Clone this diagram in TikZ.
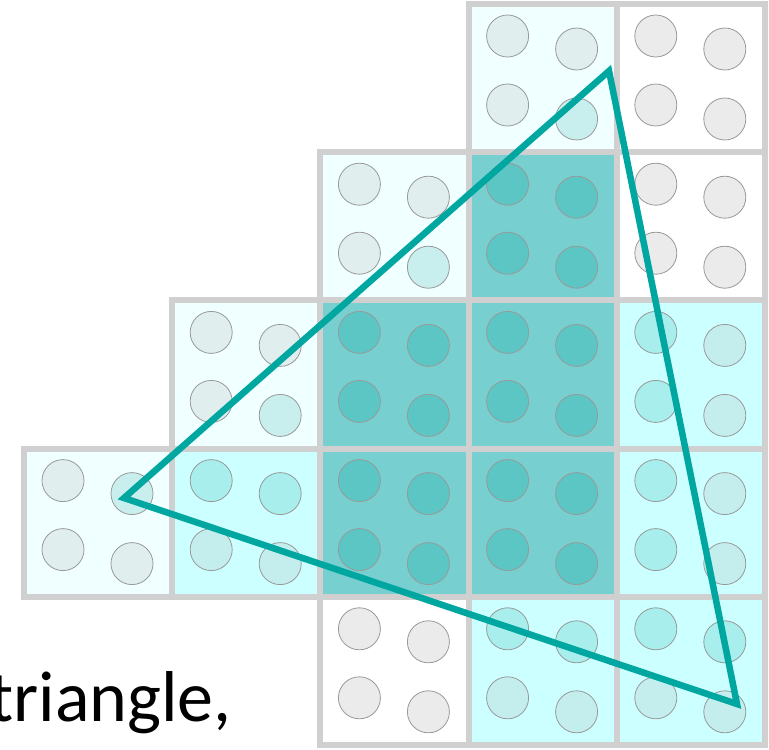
\documentclass[tikz,border=0pt]{standalone}
\usepackage{fontspec}
\setmainfont{Carlito}
\definecolor{gridgray}{HTML}{D0D0D0}
\definecolor{bgL}{HTML}{F0FFFF}
\definecolor{bgM}{HTML}{CCFFFF}
\definecolor{bgD}{HTML}{77CFCF}
\definecolor{dW}{HTML}{EBEBEB}
\definecolor{dL}{HTML}{E0EEEE}
\definecolor{dLI}{HTML}{C8EEEE}
\definecolor{dM}{HTML}{C4EEEE}
\definecolor{dMI}{HTML}{A8EEEC}
\definecolor{dD}{HTML}{5CC6C4}
\definecolor{tri}{HTML}{00A6A0}
\newcommand\gridcell[7]{%
  \pgfmathsetmacro\cx{24+148.2*#1}%
  \pgfmathsetmacro\cy{4+148.2*#2}%
  \fill[#3] (\cx,\cy) rectangle ++(148.2,148.2);
  \draw[dotstyle,fill=#4] (\cx+39,\cy+32) circle[radius=21];
  \draw[dotstyle,fill=#5] (\cx+108,\cy+45) circle[radius=21];
  \draw[dotstyle,fill=#6] (\cx+39,\cy+101) circle[radius=21];
  \draw[dotstyle,fill=#7] (\cx+108,\cy+115) circle[radius=21];
  \draw[cellborder] (\cx,\cy) rectangle ++(148.2,148.2);
}
\begin{document}
\begin{tikzpicture}[x=1pt,y=-1pt,
  dotstyle/.style={draw=black!40,line width=0.8},
  cellborder/.style={draw=gridgray,line width=6},
  triline/.style={draw=tri,line width=6.5,line join=miter}]
\useasboundingbox (0,0) rectangle (769,750);
\clip (0,0) rectangle (769,750);
\fill[white] (0,0) rectangle (769,750);
% row 0
\gridcell{3}{0}{bgL}{dL}{dL}{dL}{dLI}
\gridcell{4}{0}{white}{dW}{dW}{dW}{dW}
% row 1
\gridcell{2}{1}{bgL}{dL}{dL}{dL}{dLI}
\gridcell{3}{1}{bgD}{dD}{dD}{dD}{dD}
\gridcell{4}{1}{white}{dW}{dW}{dW}{dW}
% row 2
\gridcell{1}{2}{bgL}{dL}{dL}{dL}{dLI}
\gridcell{2}{2}{bgD}{dD}{dD}{dD}{dD}
\gridcell{3}{2}{bgD}{dD}{dD}{dD}{dD}
\gridcell{4}{2}{bgM}{dMI}{dM}{dMI}{dM}
% row 3
\gridcell{0}{3}{bgL}{dL}{dLI}{dL}{dL}
\gridcell{1}{3}{bgM}{dMI}{dMI}{dM}{dM}
\gridcell{2}{3}{bgD}{dD}{dD}{dD}{dD}
\gridcell{3}{3}{bgD}{dD}{dD}{dD}{dD}
\gridcell{4}{3}{bgM}{dMI}{dM}{dMI}{dM}
% row 4
\gridcell{2}{4}{white}{dW}{dW}{dW}{dW}
\gridcell{3}{4}{bgM}{dMI}{dMI}{dM}{dM}
\gridcell{4}{4}{bgM}{dMI}{dMI}{dM}{dM}
% triangle
\coordinate (A) at (609,71);
\coordinate (B) at (124,498);
\coordinate (C) at (737,704);
\draw[triline] (A) -- (B) -- (C) -- cycle;
% label
\node[anchor=base east,inner sep=0pt,font=\fontsize{72}{80}\selectfont] (lbl) at (232,721) {triangle,};
\end{tikzpicture}
\end{document}
